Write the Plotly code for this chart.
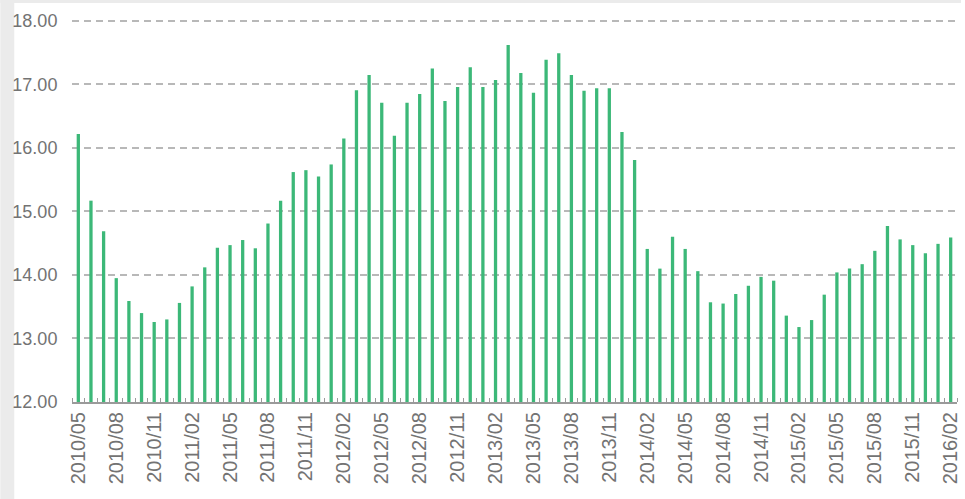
import plotly.graph_objects as go

months = []
for y in range(2010, 2017):
    for m in range(1, 13):
        if (y == 2010 and m < 5) or (y == 2016 and m > 2):
            continue
        months.append(f"{y}/{m:02d}")

values = [
    16.22, 15.17, 14.69, 13.95, 13.59, 13.40, 13.26, 13.30, 13.56, 13.82,
    14.12, 14.43, 14.47, 14.55, 14.42, 14.81, 15.17, 15.62, 15.65, 15.55,
    15.74, 16.15, 16.91, 17.15, 16.71, 16.19, 16.71, 16.85, 17.25, 16.74,
    16.96, 17.27, 16.96, 17.07, 17.62, 17.18, 16.87, 17.39, 17.49, 17.15,
    16.90, 16.94, 16.94, 16.25, 15.81, 14.41, 14.10, 14.60, 14.41, 14.06,
    13.57, 13.55, 13.70, 13.83, 13.97, 13.91, 13.36, 13.18, 13.29, 13.69,
    14.04, 14.10, 14.17, 14.38, 14.77, 14.56, 14.47, 14.34, 14.49, 14.59,
]

y_ticks = [12, 13, 14, 15, 16, 17, 18]
y_tick_labels = ["12.00", "13.00", "14.00", "15.00", "16.00", "17.00", "18.00"]

idx = list(range(len(months)))
x_tickvals = idx[::3]
x_ticktext = months[::3]

ML, MR, MT, MB = 72, 4, 19, 97
W, H = 965, 499
pw = W - ML - MR
ph = H - MT - MB

fig = go.Figure(go.Bar(
    x=idx, y=[v - 12 for v in values], base=12,
    marker=dict(color="#3cb878", line=dict(width=0)),
    width=0.26,
    hoverinfo="skip",
))

fig.update_layout(
    width=W, height=H,
    margin=dict(l=ML, r=MR, t=MT, b=MB),
    paper_bgcolor="white", plot_bgcolor="white",
    showlegend=False,
    font=dict(family="Liberation Sans, Arial, sans-serif", color="#737373"),
    shapes=[
        dict(type="rect", xref="paper", yref="paper", layer="below",
             x0=-ML / pw, x1=(-ML + 14) / pw, y0=-MB / ph, y1=1 + MT / ph,
             fillcolor="#ebebeb", line=dict(width=0)),
        dict(type="rect", xref="paper", yref="paper", layer="below",
             x0=-ML / pw, x1=1 + MR / pw, y0=1 + (MT - 3) / ph, y1=1 + MT / ph,
             fillcolor="#ebebeb", line=dict(width=0)),
    ],
)

fig.update_xaxes(
    range=[-0.5, len(months) - 0.5],
    tickmode="array", tickvals=x_tickvals, ticktext=x_ticktext,
    tickangle=-90, tickfont=dict(size=20, color="#737373"),
    ticklabeloverflow="allow",
    ticks="", showgrid=False, zeroline=False,
    showline=True, linecolor="#9a9a9a", linewidth=2,
    minor=dict(tick0=0.5, dtick=1, ticks="inside", ticklen=4,
               tickcolor="#9a9a9a", tickwidth=1, showgrid=False),
)

fig.update_yaxes(
    range=[12, 18.03],
    tickmode="array", tickvals=y_ticks, ticktext=y_tick_labels,
    tickfont=dict(size=18, color="#737373"),
    showgrid=True, gridcolor="#b8b8b8", gridwidth=2, griddash="7px,5px",
    zeroline=False, showline=False,
    ticks="outside", ticklen=10, tickcolor="rgba(0,0,0,0)",
)

fig.write_html("out.html", config={"displayModeBar": False},
               post_script="document.body.style.margin='0';")
